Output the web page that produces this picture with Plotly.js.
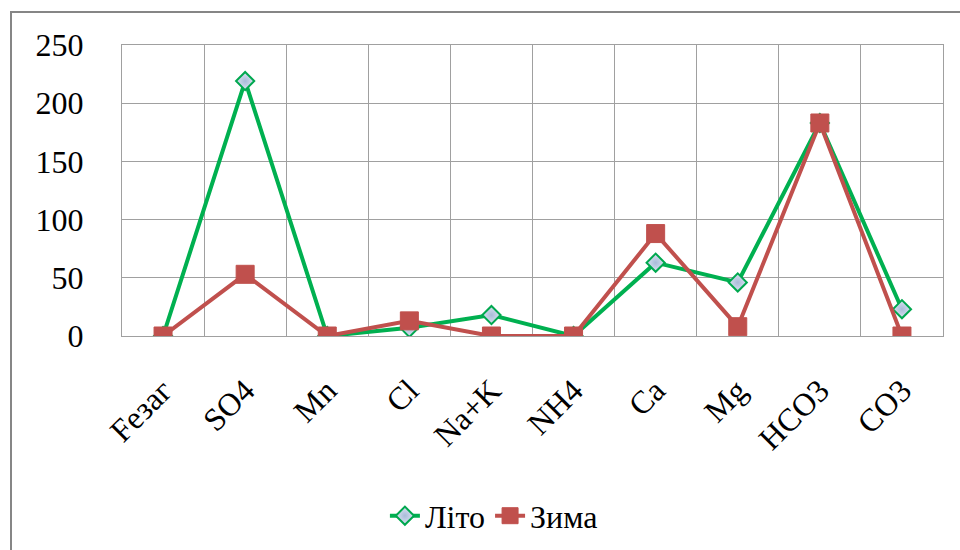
<!DOCTYPE html>
<html>
<head>
<meta charset="utf-8">
<script src="https://cdn.plot.ly/plotly-3.0.1.min.js"></script>
<style>html,body{margin:0;padding:0;background:#fff;}#chart{width:960px;height:550px;}</style>
</head>
<body>
<div id="chart"></div>
<script>
const categories = ["Fезаг", "SO4", "Mn", "Cl", "Na+K", "NH4", "Ca", "Mg", "HCO3", "CO3"];
const litoValues = [0, 219, 0, 7, 18, 0, 63, 46, 183, 23];
const zymaValues = [0, 53, 0, 13, 0, 0, 88, 8, 183, 0];
const seriesNames = ["Літо", "Зима"];
const yTicks = [0, 50, 100, 150, 200, 250];

const FAM = "Times New Roman";

const traces = [
  {
    x: categories, y: litoValues, name: seriesNames[0], type: "scatter", mode: "lines+markers",
    line: {color: "#00b050", width: 4},
    marker: {symbol: "diamond", size: 14, color: "#dbe3f1",
      gradient: {type: "radial", color: "#a9bbd9"},
      line: {color: "#00a84f", width: 2}}
  },
  {
    x: categories, y: zymaValues, name: seriesNames[1], type: "scatter", mode: "lines+markers",
    line: {color: "#c0504d", width: 4},
    marker: {symbol: "square", size: 18, color: "#c0504d", line: {color: "#c0504d", width: 1}}
  }
];

const layout = {
  width: 960, height: 550,
  margin: {l: 122, r: 17, t: 45, b: 214},
  paper_bgcolor: "#ffffff", plot_bgcolor: "#ffffff",
  font: {family: FAM, size: 32, color: "#000000"},
  showlegend: true,
  legend: {orientation: "h", x: 0.453, xanchor: "center", yref: "container", y: 0.062, yanchor: "middle",
    font: {family: FAM, size: 32, color: "#000000"}, tracegroupgap: 0},
  xaxis: {
    type: "category", range: [-0.5, 9.5], tickson: "boundaries", automargin: false,
    showgrid: true, gridcolor: "#a0a0a0", gridwidth: 1,
    showline: true, linecolor: "#a0a0a0", linewidth: 1, mirror: true,
    ticks: "", tickangle: -45, ticklabelstandoff: 22,
    tickfont: {family: FAM, size: 32, color: "#000000"}, zeroline: false
  },
  yaxis: {
    range: [0, 250], tickvals: yTicks, ticktext: yTicks.map(String), automargin: false,
    showgrid: true, gridcolor: "#a0a0a0", gridwidth: 1,
    showline: true, linecolor: "#a0a0a0", linewidth: 1, mirror: true,
    ticks: "", ticklabelstandoff: 31, zeroline: false,
    tickfont: {family: FAM, size: 32, color: "#000000"}
  },
  shapes: [{
    type: "rect", xref: "paper", yref: "paper",
    x0: -0.1352, x1: 1.2, y0: -1.0, y1: 1.1134,
    line: {color: "#868686", width: 2}, fillcolor: "rgba(0,0,0,0)", layer: "below"
  }]
};

Plotly.newPlot("chart", traces, layout, {displayModeBar: false});
</script>
</body>
</html>
